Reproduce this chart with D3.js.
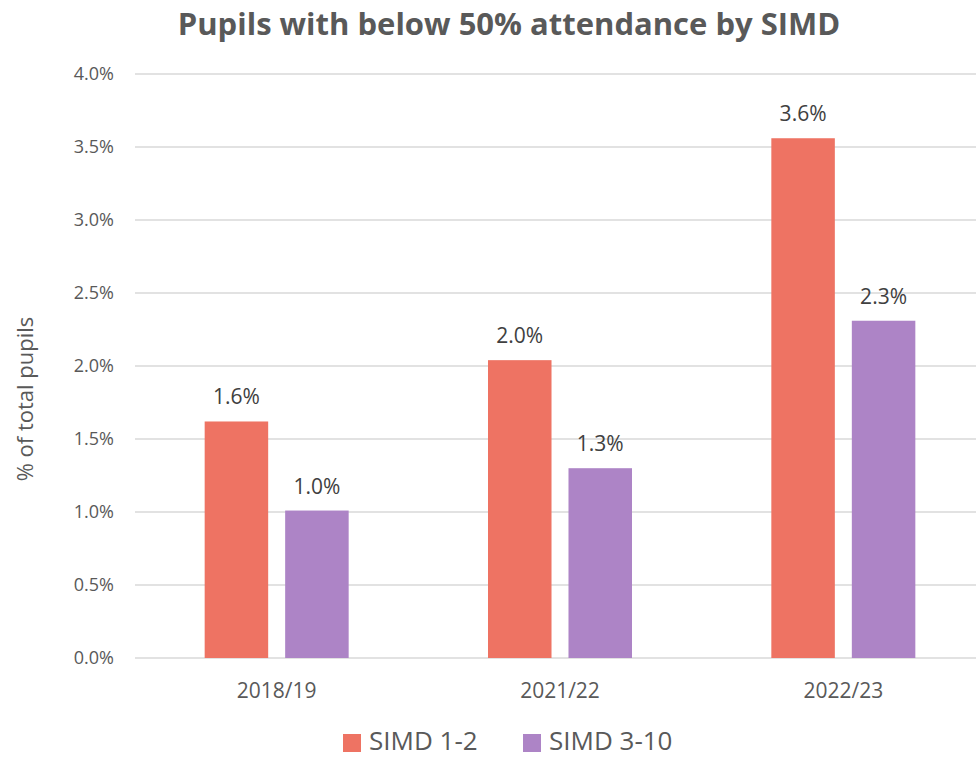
<!DOCTYPE html>
<html lang="en">
<head>
    <meta charset="UTF-8">
    <title>Pupils with below 50% attendance by SIMD</title>
    <script src="https://d3js.org/d3.v7.min.js"></script>
    <style>
        body {
            margin: 0;
            background: white;
        }
        svg {
            display: block;
            font-family: "Open Sans", sans-serif;
        }
        .grid line {
            stroke: #d9d9d9;
            stroke-width: 1.3;
        }
        .tick-label {
            fill: #595959;
            font-size: 18px;
        }
        .cat-label {
            fill: #595959;
            font-size: 21px;
        }
        .value-label {
            fill: #404040;
            font-size: 21px;
        }
    </style>
</head>
<body>
    <svg id="chart" width="976" height="758"></svg>
    <script>
        // data
        const years = ["2018/19", "2021/22", "2022/23"];
        const seriesNames = ["SIMD 1-2", "SIMD 3-10"];
        const simd12 = [1.62, 2.04, 3.56];
        const simd310 = [1.01, 1.30, 2.31];
        const yTicks = [0, 0.5, 1.0, 1.5, 2.0, 2.5, 3.0, 3.5, 4.0];
        const colors = ["#ee7363", "#ad84c6"];

        const svg = d3.select("#chart");
        const plotLeft = 135, plotRight = 985, plotTop = 74, plotBottom = 658;

        const x0 = d3.scaleBand().domain(years).range([plotLeft, plotRight]);
        const bw = x0.bandwidth();
        const x1 = d3.scaleBand().domain(seriesNames)
            .range([bw / 2 - 72, bw / 2 + 72])
            .paddingInner(0.211);
        const y = d3.scaleLinear().domain([0, 4]).range([plotBottom, plotTop]);
        const color = d3.scaleOrdinal().domain(seriesNames).range(colors);

        // gridlines
        svg.append("g")
            .attr("class", "grid")
            .selectAll("line")
            .data(yTicks)
            .join("line")
            .attr("x1", plotLeft)
            .attr("x2", plotRight)
            .attr("y1", d => y(d))
            .attr("y2", d => y(d));

        // y tick labels
        svg.append("g")
            .selectAll("text")
            .data(yTicks)
            .join("text")
            .attr("class", "tick-label")
            .attr("x", 114)
            .attr("y", d => y(d))
            .attr("dy", "0.35em")
            .attr("text-anchor", "end")
            .text(d => d.toFixed(1) + "%");

        // x category labels
        svg.append("g")
            .selectAll("text")
            .data(years)
            .join("text")
            .attr("class", "cat-label")
            .attr("x", d => x0(d) + bw / 2)
            .attr("y", 698)
            .attr("text-anchor", "middle")
            .text(d => d);

        const rows = years.map((yr, i) => ({
            year: yr,
            values: [
                { name: seriesNames[0], value: simd12[i] },
                { name: seriesNames[1], value: simd310[i] }
            ]
        }));

        const groups = svg.append("g")
            .selectAll("g")
            .data(rows)
            .join("g")
            .attr("transform", d => `translate(${x0(d.year)},0)`);

        groups.selectAll("rect")
            .data(d => d.values)
            .join("rect")
            .attr("x", d => x1(d.name))
            .attr("y", d => y(d.value))
            .attr("width", x1.bandwidth())
            .attr("height", d => y(0) - y(d.value))
            .attr("fill", d => color(d.name));

        groups.selectAll("text")
            .data(d => d.values)
            .join("text")
            .attr("class", "value-label")
            .attr("x", d => x1(d.name) + x1.bandwidth() / 2)
            .attr("y", d => y(d.value) - 17)
            .attr("text-anchor", "middle")
            .text(d => d.value.toFixed(1) + "%");

        // title
        svg.append("text")
            .attr("x", 509)
            .attr("y", 35)
            .attr("text-anchor", "middle")
            .attr("font-size", 31)
            .attr("font-weight", "bold")
            .attr("fill", "#595959")
            .text("Pupils with below 50% attendance by SIMD");

        // y axis title
        svg.append("text")
            .attr("transform", "translate(33,399) rotate(-90)")
            .attr("text-anchor", "middle")
            .attr("font-size", 22)
            .attr("fill", "#595959")
            .text("% of total pupils");

        // legend
        const legendX = [343, 523];
        const legend = svg.append("g")
            .selectAll("g")
            .data(seriesNames)
            .join("g")
            .attr("transform", (d, i) => `translate(${legendX[i]},734)`);

        legend.append("rect")
            .attr("width", 18)
            .attr("height", 18)
            .attr("fill", d => color(d));

        legend.append("text")
            .attr("x", 26)
            .attr("y", 16)
            .attr("font-size", 26)
            .attr("fill", "#595959")
            .text(d => d);
    </script>
</body>
</html>
